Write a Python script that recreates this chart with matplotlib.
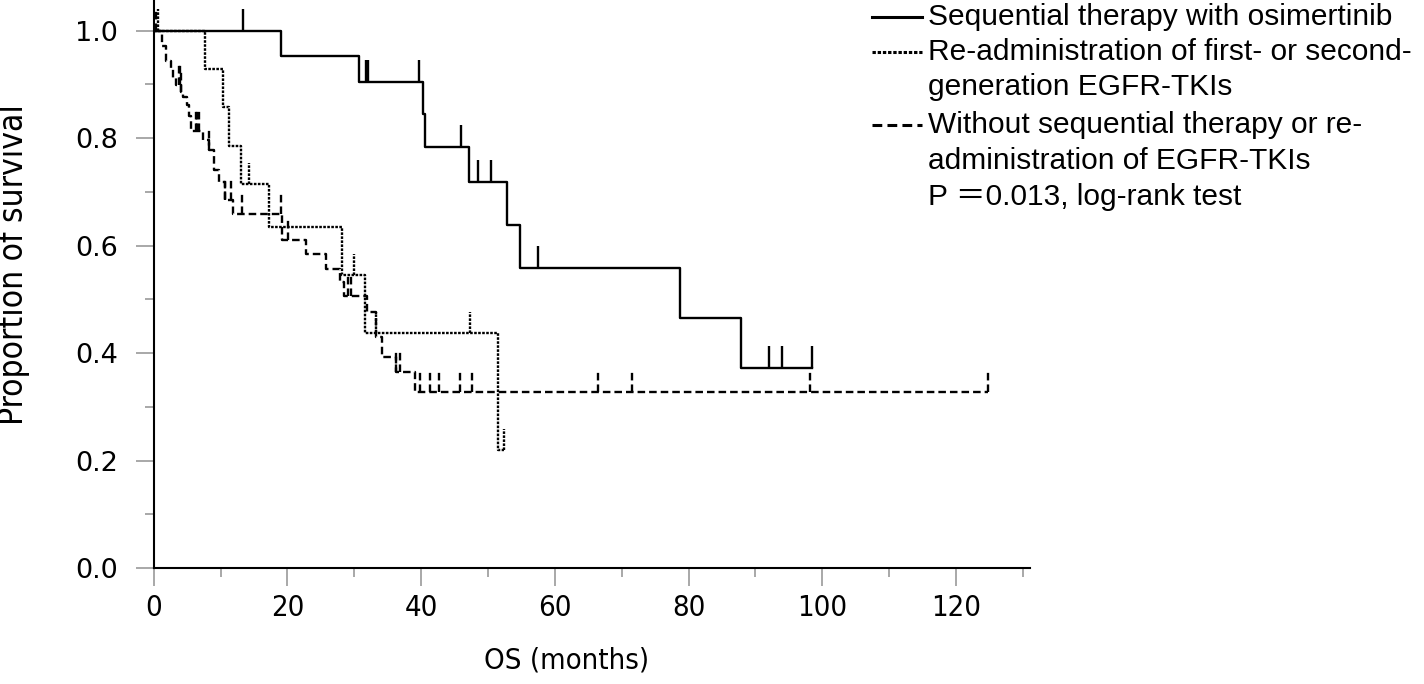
import numpy as np
import matplotlib
matplotlib.use('Agg')
import matplotlib.pyplot as plt
from matplotlib import font_manager

# Kaplan-Meier curves (months, survival after each step)
osi_times = [19.0, 30.7, 40.2, 40.5, 47.1, 52.9, 54.8, 78.7, 87.9]
osi_surv = [0.952, 0.905, 0.845, 0.784, 0.719, 0.639, 0.559, 0.466, 0.373]
osi_cens = [13.4, 31.7, 32.1, 39.7, 45.9, 48.5, 50.4, 57.4, 92.1, 93.9, 98.4]

readm_times = [7.6, 10.4, 11.2, 13.0, 17.3, 28.1, 31.6, 51.5]
readm_surv = [0.929, 0.857, 0.786, 0.714, 0.635, 0.545, 0.437, 0.219]
readm_cens = [0.7, 14.3, 30.0, 33.2, 47.3, 52.4]

without_times = [1.3, 1.8, 2.5, 2.9, 3.3, 4.1, 4.3, 4.9, 5.3, 5.5, 5.6, 7.3, 8.2,
                 9.0, 9.8, 10.6, 11.8, 19.2, 22.7, 25.7, 27.9, 28.4, 31.9, 33.3,
                 34.2, 36.3, 39.1]
without_surv = [0.972, 0.944, 0.931, 0.911, 0.898, 0.885, 0.876, 0.861, 0.842,
                0.827, 0.814, 0.796, 0.777, 0.740, 0.718, 0.684, 0.658, 0.610,
                0.585, 0.557, 0.532, 0.507, 0.476, 0.430, 0.393, 0.365, 0.328]
without_cens = [0.4, 3.7, 3.9, 4.1, 6.3, 6.5, 6.7, 8.3, 10.6, 11.6, 13.2, 19.0,
                20.1, 29.0, 29.5, 36.3, 36.9, 39.8, 41.3, 42.6, 45.8, 47.6, 66.5,
                71.6, 98.2, 124.8]

legend_labels = ['Sequential therapy with osimertinib',
                 'Re-administration of first- or second-',
                 'generation EGFR-TKIs',
                 'Without sequential therapy or re-',
                 'administration of EGFR-TKIs',
                 'P \uff1d0.013, log-rank test']

# look for a condensed / narrow sans face for the axis labels
narrow_file = None
for f in sorted(font_manager.fontManager.ttflist, key=lambda f: f.fname):
    fn = f.fname.lower()
    if ('condensed' in fn or 'narrow' in fn) and 'serif' not in fn and 'mono' not in fn \
            and 'bold' not in fn and 'oblique' not in fn and 'italic' not in fn:
        narrow_file = f.fname
        break


def narrow_font(size):
    if narrow_file:
        return font_manager.FontProperties(fname=narrow_file, size=size)
    return font_manager.FontProperties(family='DejaVu Sans', size=size)


fig = plt.figure(figsize=(14.24, 6.84), dpi=100)
ax = fig.add_axes([0.108, 0.1696, 0.615, 0.8304])

lw = 1.7
dotted = (0, (1.1, 0.6))
dashed = (0, (3.2, 1.7))


def km(ax, times, surv, cens, ls):
    end = max(cens[-1], times[-1])
    t = np.r_[0, times, end]
    s = np.r_[1.0, surv, surv[-1]]
    ax.step(t, s, where='post', color='black', lw=lw, linestyle=ls)
    idx = np.searchsorted(times, cens, side='right')
    s_c = np.r_[1.0, surv][idx]
    ax.vlines(cens, s_c, s_c + 0.04, colors='black', lw=lw, linestyles=[ls])


km(ax, without_times, without_surv, without_cens, dashed)
km(ax, readm_times, readm_surv, readm_cens, dotted)
km(ax, osi_times, osi_surv, osi_cens, '-')

ax.set_xlim(0, 131)
ax.set_ylim(0, 1.057)
ax.set_xticks(np.arange(0, 121, 20))
ax.set_xticks(np.arange(10, 131, 20), minor=True)
ax.set_yticks(np.arange(0, 1.01, 0.2))
ax.set_yticks(np.arange(0.1, 1.0, 0.2), minor=True)
ax.set_yticklabels(['%.1f' % v for v in np.arange(0, 1.01, 0.2)],
                   fontsize=19.5, family='DejaVu Sans')
ax.set_xticklabels([str(v) for v in range(0, 121, 20)], fontproperties=narrow_font(21))

for sp in ['top', 'right']:
    ax.spines[sp].set_visible(False)
for sp in ['left', 'bottom']:
    ax.spines[sp].set_linewidth(1.5)
ax.tick_params(which='major', length=13, width=1.4, color='#a8a8a8')
ax.tick_params(which='minor', length=6.5, width=1.4, color='#a8a8a8')
ax.tick_params(axis='y', which='major', pad=13)
ax.tick_params(axis='x', which='major', pad=6)

fig.text(14 / 1424, 1 - 265 / 684, 'Proportion of survival', rotation=90,
         ha='center', va='center', fontproperties=narrow_font(24))
fig.text(567 / 1424, 1 - 661 / 684, 'OS (months)', ha='center', va='center',
         fontproperties=narrow_font(21))

# legend drawn by hand so that wrapped labels line up like the original
text_y = [17, 52, 87, 125, 161, 197]
for lab, yy in zip(legend_labels, text_y):
    fig.text(928 / 1424, 1 - yy / 684, lab, ha='left', va='center', fontsize=21.5,
             family=['Liberation Sans', 'Noto Sans CJK JP'])
for ls, yy in zip(['-', dotted, dashed], [17, 52, 125]):
    fig.add_artist(plt.Line2D([872 / 1424, 922 / 1424], [1 - yy / 684] * 2,
                              color='black', lw=2.2, linestyle=ls))

fig.savefig('out.png', dpi=100)
